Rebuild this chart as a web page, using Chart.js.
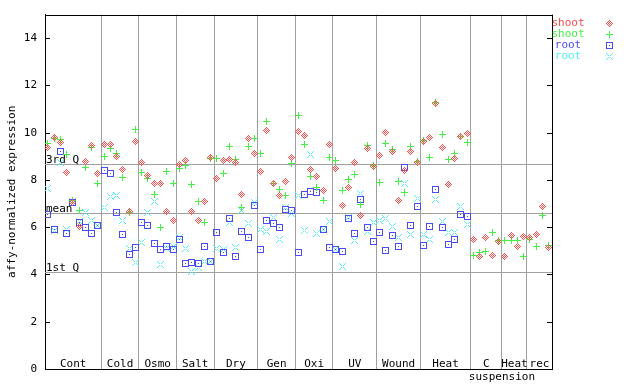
<!DOCTYPE html>
<html>
<head>
<meta charset="utf-8">
<script src="https://cdn.jsdelivr.net/npm/chart.js@4.4.0/dist/chart.umd.min.js"></script>
<style>
html,body{margin:0;padding:0;background:#fff;}
#wrap{width:640px;height:384px;position:relative;}
</style>
</head>
<body>
<div id="wrap"><canvas id="c" width="640" height="384"></canvas></div>
<script>
// ---- data ----
const categories = ["Cont","Cold","Osmo","Salt","Dry","Gen","Oxi","UV","Wound","Heat","C","Heat","rec"];
const categoryCounts = [9,6,6,6,7,6,6,7,7,8,5,4,4];
const yTicks = [0,2,4,6,8,10,12,14];
const quartiles = {"3rd Q": 8.69, "mean": 6.62, "1st Q": 4.09};
const seriesNames = ["shoot","shoot","root","root"];

const shootA = [9.39,9.81,9.57,8.31,7.05,6.04,8.78,9.44,8.27,
  9.51,9.51,8.99,8.44,6.66,9.64,
  8.74,8.2,7.85,7.85,6.66,6.29,
  8.67,8.81,6.66,6.29,7.08,8.97,
  8.06,8.82,8.86,8.72,7.38,9.77,9.12,
  8.36,10.09,7.85,7.34,7.93,8.95,
  10.05,9.88,8.44,8.14,7.55,9.5,
  8.48,6.92,7.68,8.74,6.49,9.33,8.57,
  9.03,10.01,9.2,7.13,8.4,9.2,8.74,
  9.65,9.81,11.23,9.37,7.8,8.9,9.85,9.97,
  5.47,4.75,5.56,4.8,5.39,
  4.75,5.64,5.18,5.6,
  5.56,5.69,6.87,5.14];
const shootB = [9.54,9.75,9.71,9.07,7.12,6.72,8.53,9.39,7.85,
  9.0,9.34,9.13,8.1,6.64,10.15,
  8.31,8.06,7.37,5.98,8.34,7.85,
  8.48,8.61,7.82,7.08,6.19,8.9,
  8.9,8.27,9.43,8.86,6.83,9.43,9.77,
  9.12,10.47,7.85,7.59,7.34,8.69,
  10.73,9.5,8.14,7.68,7.13,8.95,
  8.82,7.55,8.02,8.23,6.96,9.44,8.61,
  7.89,9.54,9.29,7.94,7.47,9.43,8.8,
  9.67,8.96,11.28,9.92,8.86,9.12,9.85,9.58,
  4.8,4.94,4.98,5.77,5.43,
  5.43,5.43,5.43,4.75,
  5.47,5.18,6.49,5.22];
const rootA = [6.53,5.92,9.19,5.73,7.06,6.21,5.98,5.73,6.07,
  8.4,8.27,6.62,5.7,4.85,5.14,
  6.21,6.07,5.3,5.05,5.19,5.05,
  5.5,4.46,4.51,4.46,5.19,4.57,
  5.77,4.95,6.38,4.75,5.83,5.56,6.92,
  5.05,6.28,6.15,5.98,6.75,6.72,
  4.92,7.38,7.51,7.47,5.9,5.14,
  5.05,4.97,6.36,5.73,7.17,5.98,5.39,
  5.77,5.01,5.64,5.18,8.53,6.07,6.87,
  5.22,6.03,7.59,5.98,5.26,5.47,6.53,6.46,
  null,null,null,null,null,
  null,null,null,null,
  null,null,null,null];
const rootB = [7.64,5.88,8.74,5.9,7.1,6.25,6.62,6.29,6.07,
  6.83,7.32,7.35,6.29,5.1,4.51,
  5.36,6.62,7.08,4.43,5.1,5.19,
  5.55,5.09,4.12,4.29,4.57,4.57,
  5.09,5.05,6.21,5.15,6.69,6.15,7.06,
  5.9,5.81,6.41,5.47,6.83,6.58,
  7.34,5.86,9.07,5.73,5.9,6.24,
  5.05,4.33,6.4,5.43,7.42,5.81,6.19,
  6.28,6.36,6.03,5.56,7.85,5.69,7.21,
  5.69,5.47,7.17,6.24,5.77,5.77,6.87,6.11,
  null,null,null,null,null,
  null,null,null,null,
  null,null,null,null];

// ---- derived ----
const nSamples = categoryCounts.reduce((a,b)=>a+b,0);
const boundaries = [0];
categoryCounts.forEach(c => boundaries.push(boundaries[boundaries.length-1] + c));

const colors = ["#ff4c4c","#44f044","#4c4cf4","#55f2f2"];
const FONT = '11px "DejaVu Sans Mono", "Liberation Mono", monospace';

function glyph(type, color){
  const c = document.createElement('canvas');
  c.width = 9; c.height = 9;
  const g = c.getContext('2d');
  g.fillStyle = color;
  const p = (dx,dy)=>g.fillRect(4+dx,4+dy,1,1);
  for (let dx=-3; dx<=3; dx++) for (let dy=-3; dy<=3; dy++) {
    const a = Math.abs(dx), b = Math.abs(dy);
    if (type==='diamond' && (a+b===3 || a+b===1)) p(dx,dy);
    if (type==='plus' && (dx===0 || dy===0)) p(dx,dy);
    if (type==='square' && (a===3 || b===3 || (a===0&&b===0))) p(dx,dy);
    if (type==='x' && a===b && a>0) p(dx,dy);
  }
  return c;
}
const glyphs = [glyph('diamond',colors[0]), glyph('plus',colors[1]), glyph('square',colors[2]), glyph('x',colors[3])];

function toPoints(arr){
  return arr.map((v,i)=> v===null ? null : ({x: i+0.45, y: v})).filter(p=>p);
}
const allSeries = [shootA, shootB, rootA, rootB];

const overlay = {
  id: 'overlay',
  beforeDatasetsDraw(chart){
    const {ctx, chartArea:a, scales:{y}} = chart;
    ctx.save();
    ctx.strokeStyle = '#a0a0a0';
    ctx.lineWidth = 1;
    Object.keys(quartiles).forEach(k=>{
      const py = Math.round(y.getPixelForValue(quartiles[k])) + 0.5;
      ctx.beginPath(); ctx.moveTo(a.left, py); ctx.lineTo(a.right, py); ctx.stroke();
    });
    ctx.fillStyle = '#000';
    ctx.font = FONT;
    ctx.textAlign = 'left';
    ctx.textBaseline = 'alphabetic';
    Object.keys(quartiles).forEach(k=>{
      const py = Math.round(y.getPixelForValue(quartiles[k]));
      ctx.fillText(k, a.left + 1, py - 1);
    });
    ctx.restore();
    ctx.imageSmoothingEnabled = false;
  },
  afterDatasetsDraw(chart){
    chart.ctx.imageSmoothingEnabled = true;
  },
  afterDraw(chart){
    const {ctx, chartArea:a, scales:{x,y}} = chart;
    ctx.save();
    ctx.strokeStyle = '#000';
    ctx.lineWidth = 1;
    // top and right border
    ctx.beginPath();
    ctx.moveTo(a.left, Math.round(a.top)+0.5); ctx.lineTo(a.right, Math.round(a.top)+0.5);
    ctx.moveTo(Math.round(a.right)+0.5, a.top); ctx.lineTo(Math.round(a.right)+0.5, a.bottom);
    ctx.stroke();
    // inward ticks
    ctx.beginPath();
    yTicks.forEach(v=>{
      const py = Math.round(y.getPixelForValue(v)) + 0.5;
      ctx.moveTo(a.left, py); ctx.lineTo(a.left + 5, py);
      ctx.moveTo(a.right - 5, py); ctx.lineTo(a.right, py);
    });
    ctx.stroke();
    // category labels
    ctx.fillStyle = '#000';
    ctx.font = FONT;
    ctx.textAlign = 'center';
    ctx.textBaseline = 'middle';
    categories.forEach((name,i)=>{
      const cx = (x.getPixelForValue(boundaries[i]) + x.getPixelForValue(boundaries[i+1]))/2;
      ctx.fillText(name, cx, a.bottom - 5);
    });
    const ci = categories.indexOf("C");
    ctx.fillText("suspension", x.getPixelForValue(boundaries[ci+1]), a.bottom + 8);
    // y title
    ctx.save();
    ctx.translate(12, (a.top + a.bottom)/2);
    ctx.rotate(-Math.PI/2);
    ctx.fillText("affy-normalized expression", 0, 0);
    ctx.restore();
    // legend
    ctx.imageSmoothingEnabled = false;
    seriesNames.forEach((nm,i)=>{
      const ly = 23 + i*11.1;
      ctx.fillStyle = colors[i];
      ctx.fillText(nm, 568, ly);
      ctx.drawImage(glyphs[i], 605, Math.round(ly) - 4);
    });
    ctx.restore();
  }
};

new Chart(document.getElementById('c'), {
  type: 'scatter',
  data: {
    datasets: allSeries.map((s,i)=>({
      label: seriesNames[i],
      data: toPoints(s),
      pointStyle: glyphs[i],
      pointRadius: 4,
      showLine: false
    }))
  },
  options: {
    responsive: false,
    animation: false,
    events: [],
    layout: {padding: {left: 0, top: 14, right: 88, bottom: 0}},
    plugins: {legend: {display: false}, tooltip: {enabled: false}},
    scales: {
      x: {
        type: 'linear', min: 0, max: nSamples,
        afterBuildTicks: s => { s.ticks = boundaries.map(v=>({value:v})); },
        afterFit: s => { s.height = 15; },
        ticks: {display: false},
        grid: {
          drawTicks: false,
          color: c => (c.tick && c.tick.value > 0 && c.tick.value < nSamples) ? '#a0a0a0' : 'rgba(0,0,0,0)',
          lineWidth: 1
        },
        border: {color: '#000', width: 1}
      },
      y: {
        min: 0, max: 15,
        afterBuildTicks: s => { s.ticks = yTicks.map(v=>({value:v})); },
        afterFit: s => { s.width = 45; },
        ticks: {color: '#000', font: {family: '"DejaVu Sans Mono"', size: 11}, padding: 8},
        grid: {display: false, drawTicks: false},
        border: {color: '#000', width: 1}
      }
    }
  },
  plugins: [overlay]
});
</script>
</body>
</html>
